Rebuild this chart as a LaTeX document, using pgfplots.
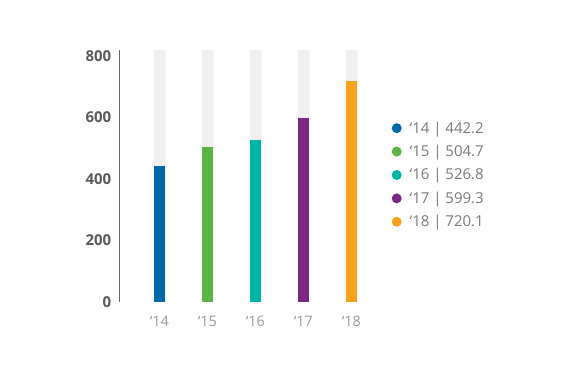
\documentclass[border=0pt]{standalone}
\usepackage{fontspec}
\setmainfont{Open Sans}
\usepackage{pgfplots}
\pgfplotsset{compat=1.18}
\definecolor{cA}{HTML}{0069AA}
\definecolor{cB}{HTML}{5BB446}
\definecolor{cC}{HTML}{00B5A5}
\definecolor{cD}{HTML}{7B2882}
\definecolor{cE}{HTML}{F7A11F}
\definecolor{bgbar}{HTML}{EFEFEF}
\definecolor{axisgray}{HTML}{6A6A6A}
\definecolor{ylab}{HTML}{5A5A5A}
\definecolor{xlab}{HTML}{9A9A9A}
\definecolor{leg}{HTML}{7A7A7A}
\begin{document}
\begin{tikzpicture}[x=1pt,y=1pt]
\path (0,0) rectangle (575,382);
\begin{axis}[
  at={(119.5pt,80pt)}, anchor=south west,
  scale only axis, width=272pt, height=252pt,
  xmin=-0.8333, xmax=4.8333, ymin=0, ymax=820,
  axis lines*=left,
  x axis line style={draw=none},
  y axis line style={draw=axisgray, line width=1.3pt},
  major tick length=0pt,
  ytick={0,200,400,600,800},
  xtick={0,1,2,3,4},
  xticklabels={‘14,‘15,‘16,‘17,‘18},
  /pgf/number format/assume math mode=true,
  yticklabel style={font=\fontsize{15}{15}\selectfont\bfseries, text=ylab, anchor=east, inner sep=0pt, xshift=-8pt},
  xticklabel style={font=\fontsize{14.5}{14.5}\selectfont, text=xlab, anchor=north, inner sep=0pt, yshift=-14pt},
  legend style={at={(1.0,0.504)}, anchor=west, draw=none, fill=none, inner sep=0pt,
    font=\fontsize{15}{15}\selectfont, text=leg, row sep=6.5pt, xshift=0pt,
    /tikz/every odd column/.append style={column sep=6pt}},
  legend cell align=left,
  legend image code/.code={\fill (5pt,0pt) circle (5pt);},
]
\addplot[ybar, bar width=11.5pt, bar shift=0pt, fill=bgbar, draw=none, forget plot]
  coordinates {(0,820) (1,820) (2,820) (3,820) (4,820)};
\addplot[ybar, bar width=11.5pt, bar shift=0pt, fill=cA, draw=none] coordinates {(0,442.2)};
\addplot[ybar, bar width=11.5pt, bar shift=0pt, fill=cB, draw=none] coordinates {(1,504.7)};
\addplot[ybar, bar width=11.5pt, bar shift=0pt, fill=cC, draw=none] coordinates {(2,526.8)};
\addplot[ybar, bar width=11.5pt, bar shift=0pt, fill=cD, draw=none] coordinates {(3,599.3)};
\addplot[ybar, bar width=11.5pt, bar shift=0pt, fill=cE, draw=none] coordinates {(4,720.1)};
\legend{‘14 | 442.2, ‘15 | 504.7, ‘16 | 526.8, ‘17 | 599.3, ‘18 | 720.1}
\end{axis}
\end{tikzpicture}
\end{document}
